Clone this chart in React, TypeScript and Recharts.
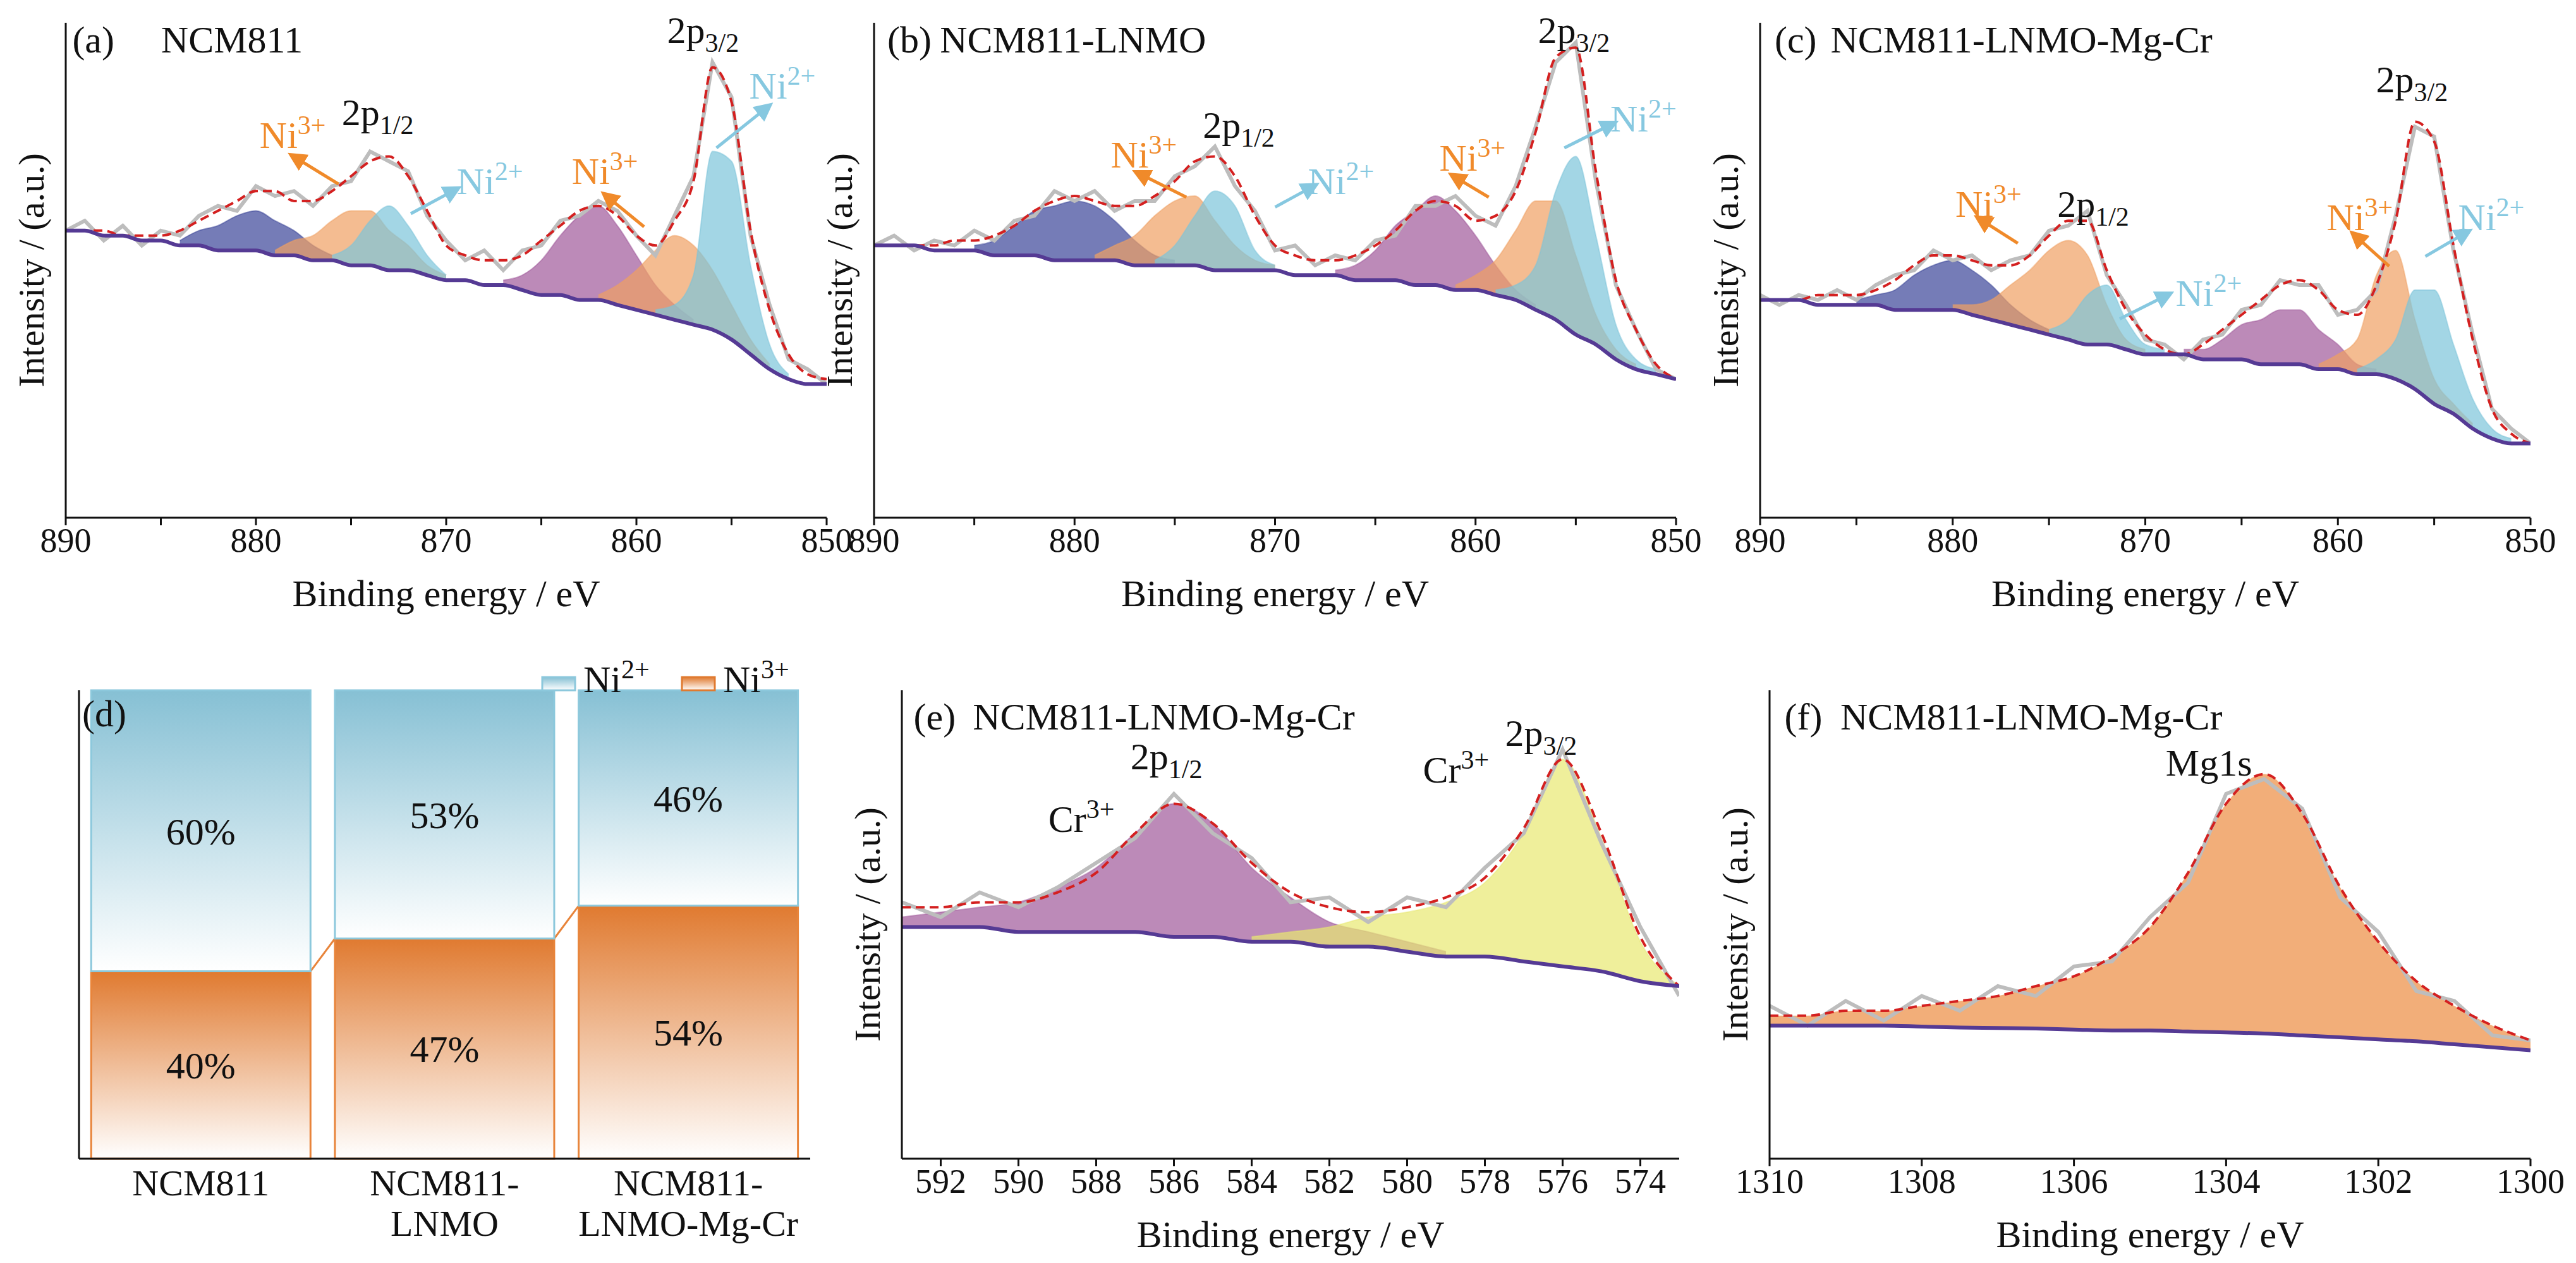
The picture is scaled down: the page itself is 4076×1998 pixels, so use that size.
import React from "react";
import {
  ComposedChart, Area, Line, XAxis, YAxis, BarChart, Bar, LabelList,
} from "recharts";

const FONT = "'Liberation Serif', 'Times New Roman', serif";
const K = 2.6; // reference sketch units -> page px

// ---------- Ni 2p spectra (890 .. 850 eV, 1 eV step) ----------
const NI_X = Array.from({ length: 41 }, (_, i) => 890 - i);
const NI_TICKS = [890, 885, 880, 875, 870, 865, 860, 855, 850];
const NI_LABELS = [890, 880, 870, 860, 850];

const A_BASE = [58, 58, 57, 57, 56, 56, 55, 55, 54, 54, 54, 53, 53, 52, 52, 51, 51, 50, 50, 49, 48, 48, 47, 47, 46, 45, 45, 44, 44, 43, 42, 41, 40, 39, 38, 36, 33, 30, 28, 27, 27];
const A_ENV = [58, 58, 58, 57, 57, 57, 58, 60, 62, 64, 66, 66, 64, 64, 66, 69, 72, 73, 69, 62, 55, 53, 52, 52, 53, 56, 59, 62, 63, 61, 57, 55, 60, 68, 91, 84, 58, 42, 33, 29, 28];
const A_RAW = [58, 60, 56, 59, 55, 58, 57, 61, 63, 62, 67, 65, 66, 63, 67, 68, 74, 72, 70, 61, 56, 52, 54, 50, 54, 55, 60, 61, 64, 62, 57, 53, 61, 69, 92, 85, 57, 43, 32, 30, 27];
const A_PEAKS = [
  { start: 884, h: [1, 3, 5, 7, 8, 7, 5, 3, 1], color: "#3b4598" },
  { start: 879, h: [1, 3, 5, 8, 11, 11, 8, 5, 2, 1], color: "#f0a062" },
  { start: 876, h: [1, 4, 9, 13, 9, 4, 1], color: "#7cc4da" },
  { start: 867, h: [1, 3, 7, 12, 17, 19, 16, 11, 6, 3, 1], color: "#a0589a" },
  { start: 862, h: [1, 4, 8, 13, 17, 16, 12, 7, 3, 1], color: "#f0a062" },
  { start: 859, h: [1, 3, 10, 36, 36, 18, 5, 1], color: "#7cc4da" },
];

const B_BASE = [55, 55, 55, 54, 54, 54, 53, 53, 53, 52, 52, 52, 52, 51, 51, 51, 51, 50, 50, 50, 50, 49, 49, 49, 48, 48, 48, 47, 47, 46, 46, 45, 44, 42, 40, 37, 35, 32, 30, 29, 28];
const B_ENV = [55, 55, 55, 55, 56, 56, 57, 59, 62, 64, 65, 64, 63, 63, 65, 68, 72, 73, 69, 61, 55, 53, 52, 52, 53, 55, 58, 62, 64, 63, 60, 61, 66, 78, 93, 95, 70, 48, 38, 31, 28];
const B_RAW = [55, 57, 54, 56, 55, 58, 56, 60, 61, 66, 64, 66, 62, 64, 64, 69, 71, 75, 67, 62, 54, 55, 51, 53, 52, 56, 57, 63, 63, 65, 61, 59, 67, 79, 92, 96, 68, 47, 38, 30, 28];
const B_PEAKS = [
  { start: 885, h: [1, 3, 6, 9, 11, 12, 11, 8, 5, 2, 1], color: "#3b4598" },
  { start: 879, h: [1, 3, 6, 10, 13, 14, 10, 5, 2, 1], color: "#f0a062" },
  { start: 876, h: [1, 4, 10, 16, 13, 4, 1], color: "#7cc4da" },
  { start: 867, h: [1, 3, 6, 11, 15, 18, 16, 11, 6, 2, 1], color: "#a0589a" },
  { start: 861, h: [1, 3, 7, 14, 22, 24, 16, 6, 2, 1], color: "#f0a062" },
  { start: 859, h: [1, 3, 9, 26, 36, 22, 7, 2, 1], color: "#7cc4da" },
];

const C_BASE = [44, 44, 44, 43, 43, 43, 43, 42, 42, 42, 42, 41, 40, 39, 38, 37, 36, 35, 35, 34, 33, 33, 33, 32, 32, 32, 31, 31, 31, 30, 30, 29, 29, 28, 26, 23, 21, 18, 16, 15, 15];
const C_ENV = [44, 44, 44, 45, 45, 45, 46, 48, 51, 53, 53, 52, 51, 51, 53, 57, 60, 60, 50, 42, 37, 34, 33, 35, 38, 41, 44, 47, 48, 46, 42, 41, 47, 60, 80, 76, 55, 36, 22, 17, 15];
const C_RAW = [45, 43, 45, 44, 46, 44, 47, 49, 50, 54, 52, 53, 50, 52, 53, 58, 59, 62, 49, 43, 36, 35, 32, 36, 37, 42, 43, 48, 47, 47, 41, 42, 46, 61, 79, 77, 54, 37, 22, 18, 15];
const C_PEAKS = [
  { start: 885, h: [1, 2, 4, 7, 9, 10, 9, 7, 4, 2, 1], color: "#3b4598" },
  { start: 880, h: [1, 2, 4, 8, 12, 17, 20, 18, 8, 2, 1], color: "#f0a062" },
  { start: 875, h: [1, 4, 10, 12, 6, 2, 1], color: "#7cc4da" },
  { start: 868, h: [1, 2, 4, 7, 9, 11, 11, 8, 5, 2, 1], color: "#a0589a" },
  { start: 861, h: [1, 3, 7, 20, 26, 14, 5, 2, 1], color: "#f0a062" },
  { start: 859, h: [1, 3, 8, 20, 23, 14, 6, 2, 1], color: "#7cc4da" },
];

// ---------- Cr 2p (593 .. 573 eV) ----------
const CR_X = Array.from({ length: 21 }, (_, i) => 593 - i);
const CR_TICKS = [592, 590, 588, 586, 584, 582, 580, 578, 576, 574];
const CR_BASE = [47, 47, 47, 46, 46, 46, 46, 45, 45, 44, 44, 43, 43, 42, 41, 41, 40, 39, 38, 36, 35];
const CR_ENV = [51, 51, 52, 52, 54, 58, 66, 72, 68, 60, 54, 51, 50, 51, 53, 57, 67, 81, 66, 45, 35];
const CR_RAW = [52, 49, 54, 51, 55, 60, 65, 74, 66, 61, 52, 53, 48, 53, 51, 59, 66, 83, 64, 47, 33];
const CR_PEAKS = [
  { start: 593, h: [2, 3, 4, 6, 9, 13, 20, 27, 23, 15, 9, 5, 3, 2, 1], color: "#a0589a" },
  { start: 584, h: [1, 2, 4, 6, 8, 11, 15, 26, 42, 27, 8, 0], color: "#e8e870" },
];

// ---------- Mg 1s (1310 .. 1300 eV, 0.5 eV step) ----------
const MG_X = Array.from({ length: 21 }, (_, i) => 1310 - i * 0.5);
const MG_TICKS = [1310, 1308, 1306, 1304, 1302, 1300];
const MG_BASE = [27, 27, 27, 27, 26.8, 26.6, 26.5, 26.4, 26.2, 26, 26, 25.8, 25.6, 25.4, 25, 24.6, 24.2, 23.8, 23.2, 22.6, 22];
const MG_ENV = [29, 29, 30, 30, 31, 32, 33, 35, 37, 41, 47, 58, 72, 78, 70, 55, 44, 36, 31, 27, 24];
const MG_RAW = [31, 27, 32, 28, 33, 30, 35, 33, 39, 40, 49, 56, 74, 77, 71, 53, 46, 34, 32, 25, 24];

// ---------- Ni valence ratio ----------
const SAMPLES = ["NCM811", "NCM811-\nLNMO", "NCM811-\nLNMO-Mg-Cr"];
const NI3 = [40, 47, 54];
const NI2 = [60, 53, 46];

function buildRows(xs, base, env, raw, peaks) {
  return xs.map((x, i) => {
    const row: any = { x, base: base[i], env: env[i], raw: raw[i] };
    peaks.forEach((p, k) => {
      const j = Math.round((p.start - x) / (xs[0] - xs[1]));
      row["p" + k] = j >= 0 && j < p.h.length ? [base[i], base[i] + p.h[j]] : null;
    });
    return row;
  });
}

const tickStyle = { fill: "#111", fontSize: 54, fontFamily: FONT };

function Spectrum({ pl, pr, pt, pb, xs, base, env, raw, peaks, ticks, labels, yMax, fillAll }: any) {
  const rows = buildRows(xs, base, env, raw, peaks || []);
  if (fillAll) rows.forEach((r) => (r.fill = [r.base, r.env]));
  const left = pl - 104;
  const top = pt - 20;
  const w = pr - left + 60;
  const h = pb - top + 170;
  const lo = Math.min(xs[0], xs[xs.length - 1]);
  const hi = Math.max(xs[0], xs[xs.length - 1]);
  const shown = labels || ticks;
  return (
    <div style={{ position: "absolute", left, top, fontFamily: FONT }}>
      <ComposedChart width={w} height={h} data={rows} margin={{ top: 20, right: 60, left: 0, bottom: 0 }}>
        <XAxis dataKey="x" type="number" domain={[lo, hi]} reversed ticks={ticks} allowDataOverflow interval={0}
          tickFormatter={(v) => (shown.includes(v) ? String(v) : "")}
          tick={tickStyle} tickSize={12} tickMargin={4} stroke="#111" strokeWidth={3} height={170}
          label={{ value: "Binding energy / eV", position: "insideBottom", offset: 30, fill: "#111", fontSize: 60, fontFamily: FONT }} />
        <XAxis xAxisId="top" dataKey="x" type="number" domain={[lo, hi]} reversed orientation="top" tick={false} height={0} stroke="#111" strokeWidth={3} />
        <YAxis domain={[0, yMax]} tick={false} width={104} stroke="#111" strokeWidth={3}
          label={{ value: "Intensity / (a.u.)", angle: -90, position: "insideLeft", offset: 48, style: { textAnchor: "middle" }, fill: "#111", fontSize: 58, fontFamily: FONT }} />
        <YAxis yAxisId="r" orientation="right" tick={false} width={0} stroke="#111" strokeWidth={3} />
        {fillAll && <Area dataKey="fill" type="monotone" fill="#f0a062" fillOpacity={0.85} stroke="none" isAnimationActive={false} />}
        {(peaks || []).map((p, k) => (
          <Area key={k} dataKey={"p" + k} type="monotone" fill={p.color} fillOpacity={0.7} stroke={p.color} strokeOpacity={0.5} strokeWidth={2} isAnimationActive={false} />
        ))}
        <Line dataKey="raw" type="linear" stroke="#bdbdbd" strokeWidth={6} dot={false} isAnimationActive={false} />
        <Line dataKey="env" type="monotone" stroke="#d42020" strokeWidth={4} strokeDasharray="14 8" dot={false} isAnimationActive={false} />
        <Line dataKey="base" type="monotone" stroke="#553a94" strokeWidth={6} dot={false} isAnimationActive={false} />
      </ComposedChart>
    </div>
  );
}

function T({ x, y, c = "#111", s = 60, children, a = "start" }: any) {
  return (
    <text x={x * K} y={y * K} fill={c} fontSize={s} fontFamily={FONT} textAnchor={a}>{children}</text>
  );
}
const Sub = ({ t }) => <tspan dy={14} fontSize={42}>{t}</tspan>;
const Sup = ({ t }) => <tspan dy={-22} fontSize={42}>{t}</tspan>;
const OR = "#f08a2a";
const BL = "#86c8e0";
function Arrow({ x1, y1, x2, y2, c }: any) {
  return <line x1={x1 * K} y1={y1 * K} x2={x2 * K} y2={y2 * K} stroke={c} strokeWidth={5} markerEnd={c === OR ? "url(#ao)" : "url(#ab)"} />;
}

function ShareTick({ x, y, payload }: any) {
  const lines = String(payload.value).split("\n");
  return (
    <text x={x} y={y + 50} textAnchor="middle" fill="#111" fontSize={58} fontFamily={FONT}>
      {lines.map((l, i) => <tspan key={i} x={x} dy={i === 0 ? 0 : 64}>{l}</tspan>)}
    </text>
  );
}

const D_PL = 125, D_PR = 1282;

function Ni3Shape(props: any) {
  const { x, y, width, height, index } = props;
  const catW = (D_PR - D_PL) / 3;
  const bottom = y + height;
  const ppu = height / NI3[index];
  const next = index < NI3.length - 1 ? bottom - NI3[index + 1] * ppu : null;
  return (
    <g>
      <rect x={x} y={y} width={width} height={height} fill="url(#og)" stroke="#e8843a" strokeWidth={3} />
      {next !== null && <line x1={x + width} y1={y} x2={x + catW} y2={next} stroke="#e8843a" strokeWidth={3} />}
    </g>
  );
}

function ShareChart() {
  const data = SAMPLES.map((s, i) => ({ s, ni3: NI3[i], ni2: NI2[i] }));
  const pt = 1092, pb = 1833;
  const left = D_PL - 20;
  return (
    <div style={{ position: "absolute", left, top: pt - 20, fontFamily: FONT }}>
      <BarChart width={D_PR - left + 14} height={pb - pt + 20 + 170} data={data} margin={{ top: 20, right: 14, left: 0, bottom: 0 }} barCategoryGap="5%">
        <defs>
          <linearGradient id="bg" x1="0" y1="0" x2="0" y2="1">
            <stop offset="0" stopColor="#86c0d4" />
            <stop offset="1" stopColor="#ffffff" />
          </linearGradient>
          <linearGradient id="og" x1="0" y1="0" x2="0" y2="1">
            <stop offset="0" stopColor="#e07a30" />
            <stop offset="1" stopColor="#ffffff" />
          </linearGradient>
        </defs>
        <XAxis dataKey="s" tick={<ShareTick />} tickLine={false} stroke="#111" strokeWidth={3} height={170} interval={0} />
        <YAxis domain={[0, 100]} tick={false} width={20} stroke="#111" strokeWidth={3} />
        <YAxis yAxisId="r" orientation="right" tick={false} width={0} stroke="#111" strokeWidth={3} />
        <Bar dataKey="ni3" stackId="a" shape={<Ni3Shape />} isAnimationActive={false}>
          <LabelList dataKey="ni3" position="center" formatter={(v) => v + "%"} fill="#111" fontSize={60} fontFamily={FONT} />
        </Bar>
        <Bar dataKey="ni2" stackId="a" fill="url(#bg)" stroke="#8cc8dc" strokeWidth={3} isAnimationActive={false}>
          <LabelList dataKey="ni2" position="center" formatter={(v) => v + "%"} fill="#111" fontSize={60} fontFamily={FONT} />
        </Bar>
      </BarChart>
    </div>
  );
}

export default function App() {
  return (
    <div style={{ position: "absolute", left: 0, top: 0, width: 4076, height: 1998, background: "#fff", fontFamily: FONT }}>
      <Spectrum pl={104} pr={1308} pt={36} pb={819} xs={NI_X} base={A_BASE} env={A_ENV} raw={A_RAW} peaks={A_PEAKS} ticks={NI_TICKS} labels={NI_LABELS} yMax={100} />
      <Spectrum pl={1383} pr={2652} pt={36} pb={819} xs={NI_X} base={B_BASE} env={B_ENV} raw={B_RAW} peaks={B_PEAKS} ticks={NI_TICKS} labels={NI_LABELS} yMax={100} />
      <Spectrum pl={2785} pr={4004} pt={36} pb={819} xs={NI_X} base={C_BASE} env={C_ENV} raw={C_RAW} peaks={C_PEAKS} ticks={NI_TICKS} labels={NI_LABELS} yMax={100} />
      <ShareChart />
      <Spectrum pl={1427} pr={2657} pt={1092} pb={1833} xs={CR_X} base={CR_BASE} env={CR_ENV} raw={CR_RAW} peaks={CR_PEAKS} ticks={CR_TICKS} yMax={95} />
      <Spectrum pl={2800} pr={4004} pt={1092} pb={1833} xs={MG_X} base={MG_BASE} env={MG_ENV} raw={MG_RAW} ticks={MG_TICKS} yMax={95} fillAll />
      <svg width={4076} height={1998} style={{ position: "absolute", left: 0, top: 0, pointerEvents: "none" }}>
        <defs>
          <marker id="ao" markerWidth="6" markerHeight="6" refX="3" refY="3" orient="auto"><path d="M0,0 L6,3 L0,6 z" fill={OR} /></marker>
          <marker id="ab" markerWidth="6" markerHeight="6" refX="3" refY="3" orient="auto"><path d="M0,0 L6,3 L0,6 z" fill={BL} /></marker>
          <linearGradient id="bgl" x1="0" y1="0" x2="0" y2="1">
            <stop offset="0" stopColor="#86c0d4" />
            <stop offset="1" stopColor="#ffffff" />
          </linearGradient>
          <linearGradient id="ogl" x1="0" y1="0" x2="0" y2="1">
            <stop offset="0" stopColor="#e07a30" />
            <stop offset="1" stopColor="#ffffff" />
          </linearGradient>
        </defs>
        {/* (a) */}
        <T x={44} y={32}>(a)</T>
        <T x={98} y={32}>NCM811</T>
        <T x={406} y={26}>2p<Sub t="3/2" /></T>
        <T x={456} y={60} c={BL}>Ni<Sup t="2+" /></T>
        <Arrow x1={436} y1={90} x2={466} y2={66} c={BL} />
        <T x={208} y={76}>2p<Sub t="1/2" /></T>
        <T x={158} y={90} c={OR}>Ni<Sup t="3+" /></T>
        <Arrow x1={206} y1={112} x2={180} y2={96} c={OR} />
        <T x={278} y={118} c={BL}>Ni<Sup t="2+" /></T>
        <Arrow x1={250} y1={130} x2={276} y2={116} c={BL} />
        <T x={348} y={112} c={OR}>Ni<Sup t="3+" /></T>
        <Arrow x1={392} y1={138} x2={370} y2={120} c={OR} />
        {/* (b) */}
        <T x={540} y={32}>(b)</T>
        <T x={572} y={32}>NCM811-LNMO</T>
        <T x={936} y={26}>2p<Sub t="3/2" /></T>
        <T x={980} y={80} c={BL}>Ni<Sup t="2+" /></T>
        <Arrow x1={952} y1={90} x2={980} y2={76} c={BL} />
        <T x={732} y={84}>2p<Sub t="1/2" /></T>
        <T x={676} y={102} c={OR}>Ni<Sup t="3+" /></T>
        <Arrow x1={722} y1={120} x2={694} y2={106} c={OR} />
        <T x={796} y={118} c={BL}>Ni<Sup t="2+" /></T>
        <Arrow x1={776} y1={126} x2={798} y2={114} c={BL} />
        <T x={876} y={104} c={OR}>Ni<Sup t="3+" /></T>
        <Arrow x1={906} y1={120} x2={886} y2={108} c={OR} />
        {/* (c) */}
        <T x={1080} y={32}>(c)</T>
        <T x={1114} y={32}>NCM811-LNMO-Mg-Cr</T>
        <T x={1446} y={56}>2p<Sub t="3/2" /></T>
        <T x={1496} y={140} c={BL}>Ni<Sup t="2+" /></T>
        <Arrow x1={1476} y1={156} x2={1500} y2={142} c={BL} />
        <T x={1416} y={140} c={OR}>Ni<Sup t="3+" /></T>
        <Arrow x1={1454} y1={162} x2={1434} y2={144} c={OR} />
        <T x={1252} y={132}>2p<Sub t="1/2" /></T>
        <T x={1190} y={132} c={OR}>Ni<Sup t="3+" /></T>
        <Arrow x1={1228} y1={148} x2={1206} y2={134} c={OR} />
        <T x={1324} y={186} c={BL}>Ni<Sup t="2+" /></T>
        <Arrow x1={1290} y1={194} x2={1318} y2={180} c={BL} />
        {/* (d) */}
        <T x={50} y={442}>(d)</T>
        <rect x={330 * K} y={412 * K} width={20 * K} height={8 * K} fill="url(#bgl)" stroke="#8cc8dc" strokeWidth={3} />
        <T x={355} y={421}>Ni<Sup t="2+" /></T>
        <rect x={415 * K} y={412 * K} width={20 * K} height={8 * K} fill="url(#ogl)" stroke="#e07a30" strokeWidth={3} />
        <T x={440} y={421}>Ni<Sup t="3+" /></T>
        {/* (e) */}
        <T x={556} y={444}>(e)</T>
        <T x={592} y={444}>NCM811-LNMO-Mg-Cr</T>
        <T x={688} y={468}>2p<Sub t="1/2" /></T>
        <T x={638} y={506}>Cr<Sup t="3+" /></T>
        <T x={916} y={454}>2p<Sub t="3/2" /></T>
        <T x={866} y={476}>Cr<Sup t="3+" /></T>
        {/* (f) */}
        <T x={1086} y={444}>(f)</T>
        <T x={1120} y={444}>NCM811-LNMO-Mg-Cr</T>
        <T x={1318} y={472}>Mg1s</T>
      </svg>
    </div>
  );
}
